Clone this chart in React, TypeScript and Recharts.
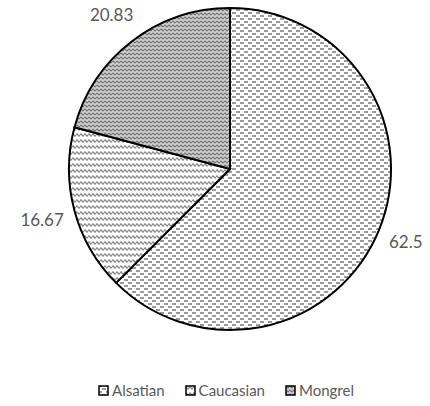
import React from "react";
import { PieChart, Pie, Cell, Legend } from "recharts";

const breeds = ["Alsatian", "Caucasian", "Mongrel"];
const shares = [62.5, 16.67, 20.83];
const shareLabels = ["62.5", "16.67", "20.83"];
const patternIds = ["pat-dots", "pat-lines", "pat-wave"];

const data = breeds.map((name, i) => ({ name, value: shares[i], label: shareLabels[i] }));

const RADIAN = Math.PI / 180;
const FONT = "Lato, 'Open Sans', sans-serif";

// svg patterns shared by slices and legend icons
const Patterns = () => (
  <svg width={0} height={0} style={{ position: "absolute" }}>
    <defs>
      <pattern id="pat-dots" width={8} height={6} patternUnits="userSpaceOnUse">
        <rect width={8} height={6} fill="#fff" />
        <rect x={0} y={0} width={4} height={2} fill="#9a9a9a" />
        <rect x={4} y={3} width={4} height={2} fill="#9a9a9a" />
      </pattern>
      <pattern id="pat-lines" width={4} height={6} patternUnits="userSpaceOnUse">
        <rect width={4} height={6} fill="#fff" />
        <path d="M0 3 L1 2 L2 3 L3 4 L4 3" stroke="#8a8a8a" strokeWidth={1.4} fill="none" />
      </pattern>
      <pattern id="pat-wave" width={4} height={4} patternUnits="userSpaceOnUse">
        <rect width={4} height={4} fill="#d0d0d0" />
        <path d="M0 2 L1 1 L2 2 L3 3 L4 2" stroke="#777" strokeWidth={1.2} fill="none" />
      </pattern>
    </defs>
  </svg>
);

// outside-end label, pushed out by roughly half its own width
const renderLabel = (props: any) => {
  const { cx, cy, midAngle, outerRadius, index } = props;
  const text = shareLabels[index];
  const r = outerRadius + 12 + text.length * 4.3;
  const x = cx + r * Math.cos(-midAngle * RADIAN);
  const y = cy + r * Math.sin(-midAngle * RADIAN);
  return (
    <text
      x={x}
      y={y}
      textAnchor="middle"
      dominantBaseline="central"
      fill="#585858"
      fontSize={17}
      fontFamily={FONT}
    >
      {text}
    </text>
  );
};

const renderLegend = () => (
  <div style={{ display: "flex", justifyContent: "center", gap: 20, fontFamily: FONT, paddingLeft: 22 }}>
    {breeds.map((b, i) => (
      <div key={b} style={{ display: "flex", alignItems: "center", gap: 3 }}>
        <svg width={11} height={11}>
          <rect x={1} y={1} width={9} height={9} fill={`url(#${patternIds[i]})`} stroke="#000" strokeWidth={1.5} />
        </svg>
        <span style={{ fontSize: 15, color: "#595959" }}>{b}</span>
      </div>
    ))}
  </div>
);

export default function App() {
  return (
    <div style={{ position: "absolute", left: 0, top: 0, width: 430, height: 406, background: "#fff" }}>
      <Patterns />
      <PieChart width={430} height={406} margin={{ top: 0, right: 0, bottom: 0, left: 0 }}>
        <Pie
          data={data}
          dataKey="value"
          nameKey="name"
          cx={230}
          cy={169}
          outerRadius={161}
          startAngle={90}
          endAngle={-270}
          stroke="#000"
          strokeWidth={2}
          label={renderLabel}
          labelLine={false}
          isAnimationActive={false}
        >
          {data.map((d, i) => (
            <Cell key={d.name} fill={`url(#${patternIds[i]})`} />
          ))}
        </Pie>
        <Legend content={renderLegend} wrapperStyle={{ top: 381, left: 0, width: 430 }} />
      </PieChart>
    </div>
  );
}
